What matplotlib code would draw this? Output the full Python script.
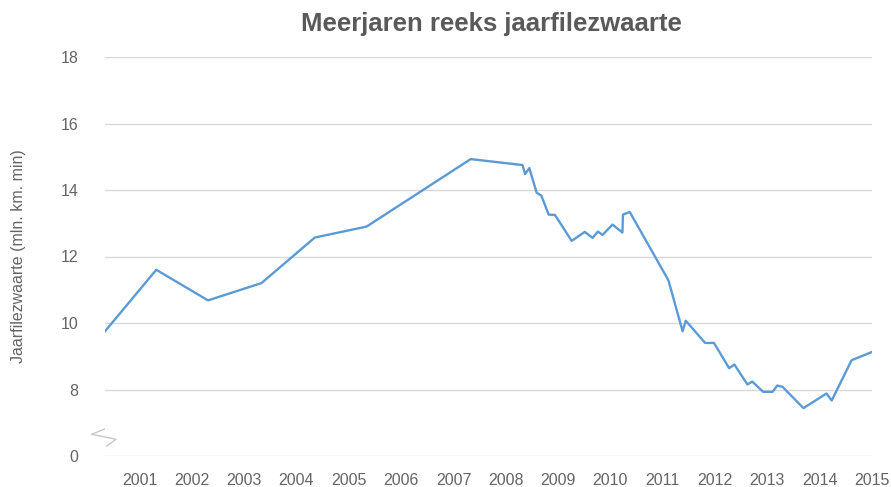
import matplotlib
matplotlib.use("Agg")
import matplotlib.pyplot as plt

plt.rcParams['font.family'] = ['Liberation Sans Narrow', 'Liberation Sans', 'DejaVu Sans']

# jaarfilezwaarte (mln. km. min), tijdas in jaren
jaar = [2000.34, 2001.32, 2002.31, 2003.33, 2004.35, 2005.34, 2007.33,
        2008.32, 2008.37, 2008.45, 2008.59, 2008.68, 2008.82, 2008.94,
        2009.26, 2009.51, 2009.66, 2009.76, 2009.85, 2010.04, 2010.23,
        2010.24, 2010.37, 2011.11, 2011.38, 2011.44, 2011.81, 2011.98,
        2012.27, 2012.37, 2012.62, 2012.71, 2012.92, 2013.10, 2013.19,
        2013.29, 2013.69, 2014.13, 2014.23, 2014.61, 2015.0]
filezwaarte = [9.75, 11.6, 10.68, 11.2, 12.57, 12.9, 14.93,
               14.75, 14.48, 14.66, 13.92, 13.83, 13.26, 13.25,
               12.47, 12.74, 12.56, 12.75, 12.65, 12.96, 12.72,
               13.26, 13.34, 11.28, 9.75, 10.07, 9.4, 9.4,
               8.64, 8.75, 8.15, 8.24, 7.93, 7.93, 8.12,
               8.08, 7.44, 7.88, 7.67, 8.88, 9.13]

jaren = list(range(2001, 2016))
y_ticks = [6, 8, 10, 12, 14, 16, 18]
y_labels = ['0', '8', '10', '12', '14', '16', '18']

grijs = '#595959'

fig = plt.figure(figsize=(8.91, 4.87), dpi=100)
ax = fig.add_axes([105 / 891, 31 / 487, 767 / 891, 399 / 487])

ax.plot(jaar, filezwaarte, color='#5b9bd5', linewidth=1.7, solid_joinstyle='round')

ax.set_xlim(2000.34, 2015.0)
ax.set_ylim(6, 18)
ax.set_yticks(y_ticks)
ax.set_yticklabels(y_labels)
ax.set_xticks(jaren)
ax.set_xticklabels([str(j) for j in jaren])

ax.grid(axis='y', color='#d9d9d9', linewidth=1.0)
ax.set_axisbelow(True)
for s in ax.spines.values():
    s.set_visible(False)
ax.tick_params(axis='both', length=0, labelsize=11.5, colors='#646464')
ax.tick_params(axis='x', pad=12)
ax.tick_params(axis='y', pad=19)

ax.set_ylabel('Jaarfilezwaarte (mln. km. min)', fontsize=11.5, color='#646464', labelpad=25)

fig.text(0.552, 0.95, 'Meerjaren reeks jaarfilezwaarte', ha='center', va='center',
         fontsize=18.5, fontweight='bold', color=grijs)

# asbreuk-teken
bx = [-0.001, -0.0175, 0.0143, 0.0022]
by = [0.067, 0.0544, 0.0419, 0.025]
ax.plot(bx, by, transform=ax.transAxes, color='#c8c8c8', linewidth=1.0, clip_on=False)

fig.savefig('out.png', dpi=100)
